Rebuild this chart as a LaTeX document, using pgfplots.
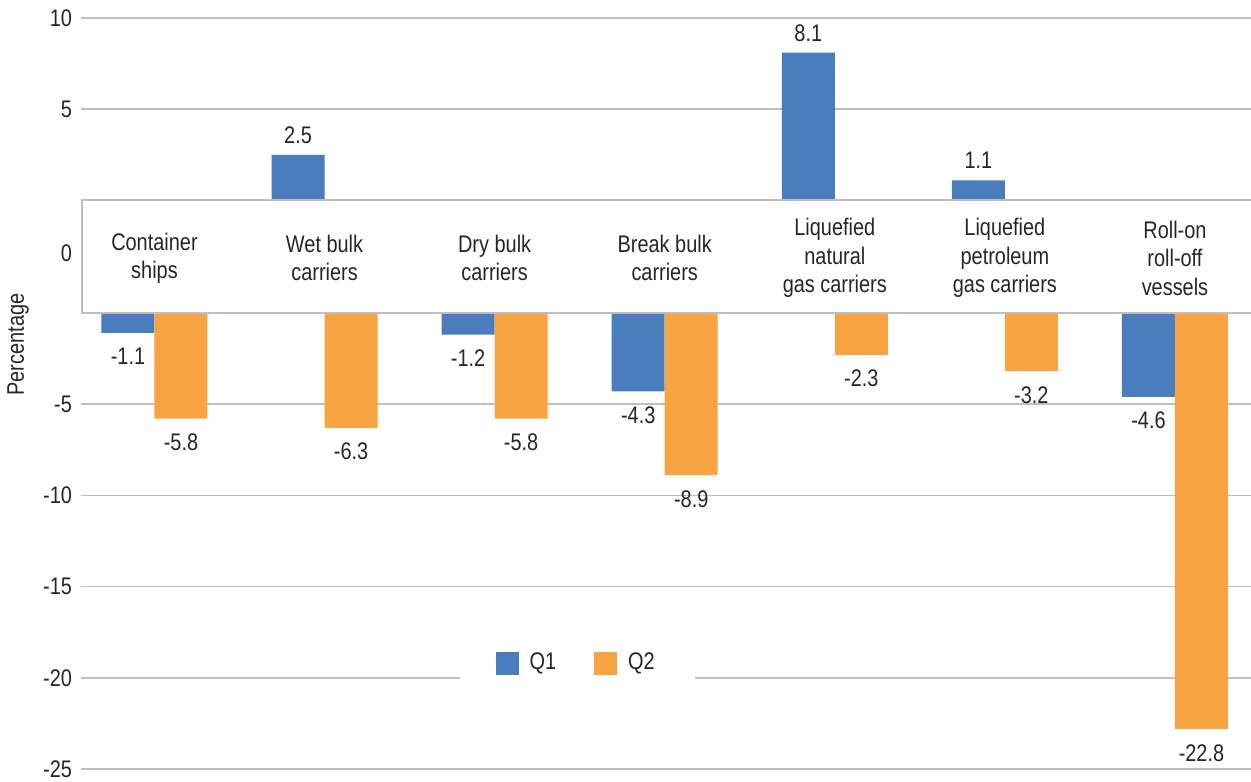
\documentclass[border=0pt]{standalone}
\usepackage{pgfplots}
\pgfplotsset{compat=1.18}
\usepackage{pgfplotstable}
\usepackage{fontspec}
\setmainfont{Liberation Sans}[FakeStretch=0.83]
\definecolor{qone}{RGB}{74,125,190}
\definecolor{qtwo}{RGB}{249,164,67}
\definecolor{gridgray}{RGB}{191,191,191}
\definecolor{txt}{RGB}{38,38,38}

\pgfplotstableread{
x Q1 Q2
0 -1.1 -5.8
1 2.5 -6.3
2 -1.2 -5.8
3 -4.3 -8.9
4 8.1 -2.3
5 1.1 -3.2
6 -4.6 -22.8
}\datatable

\begin{document}
\begin{tikzpicture}[font=\fontsize{12}{14.25}\selectfont, every node/.style={text=txt}]
\begin{axis}[
  scale only axis,
  width=585pt, height=375.5pt,
  xmin=-0.432, xmax=6.447,
  ymin=-31.16, ymax=10,
  ybar=0pt, bar width=0.3116,
  axis line style={draw=none},
  tick style={draw=none},
  major tick length=0pt,
  xtick=\empty,
  ytick={10,5,-2.9,-11.16,-16.16,-21.16,-26.16,-31.16},
  yticklabels={10,5,0,-5,-10,-15,-20,-25},
  yticklabel style={xshift=-1pt},
  ymajorgrids,
  grid style={gridgray, line width=0.75pt},
  /pgf/number format/assume math mode=true,
  /pgf/number format/.cd, fixed, precision=1, fixed zerofill, /pgfplots/.cd,
  point meta=explicit,
  nodes near coords,
  nodes near coords align={vertical},
  visualization depends on={y \as \ry},
  every node near coord/.append style={inner sep=5.5pt, text=txt, yshift={-2pt*(\ry<0)}},
  ylabel={Percentage},
  every axis y label/.style={at={(rel axis cs:0,0.565)}, xshift=-31.5pt, rotate=90, anchor=center},
  legend style={at={(rel axis cs:0.424,0.141)}, anchor=center, draw=none, fill=white,
    legend columns=2, inner xsep=18pt, inner ysep=4pt,
    /tikz/every even column/.append style={column sep=17pt}},
  legend cell align=left,
]
\addplot[fill=qone, draw=none,
  legend image code/.code={\fill[qone] (0pt,-5.75pt) rectangle (11.5pt,5.75pt); \path (15pt,0pt);}]
  table[x=x, y expr={\thisrow{Q1}<0 ? \thisrow{Q1}-6.16 : \thisrow{Q1}}, meta=Q1] {\datatable};
\addlegendentry{Q1}
\addplot[fill=qtwo, draw=none,
  legend image code/.code={\fill[qtwo] (0pt,-5.75pt) rectangle (11.5pt,5.75pt); \path (15pt,0pt);}]
  table[x=x, y expr={\thisrow{Q2}<0 ? \thisrow{Q2}-6.16 : \thisrow{Q2}}, meta=Q2] {\datatable};
\addlegendentry{Q2}
\draw[gridgray, line width=1pt, fill=white] (axis cs:-0.425,0) rectangle (axis cs:6.6,-6.16);
\node[align=center] at (axis cs:0,-3.16) {Container\\ships};
\node[align=center] at (axis cs:1,-3.16) {Wet bulk\\carriers};
\node[align=center] at (axis cs:2,-3.16) {Dry bulk\\carriers};
\node[align=center] at (axis cs:3,-3.16) {Break bulk\\carriers};
\node[align=center] at (axis cs:4,-3.16) {Liquefied\\natural\\gas carriers};
\node[align=center] at (axis cs:5,-3.16) {Liquefied\\petroleum\\gas carriers};
\node[align=center] at (axis cs:6,-3.16) {Roll-on\\roll-off\\vessels};
\end{axis}
\pgfresetboundingbox
\path[use as bounding box] ([xshift=-40.5pt,yshift=-6.5pt]current axis.south west) rectangle ([yshift=9pt]current axis.north east);
\end{tikzpicture}
\end{document}
